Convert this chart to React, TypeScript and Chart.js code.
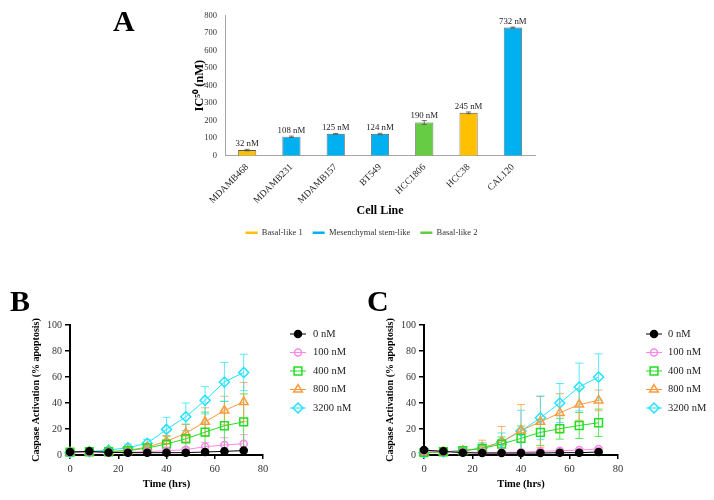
import React, { useEffect, useRef } from "react";
import { Chart, registerables } from "chart.js";
import { drawPoint } from "chart.js/helpers";

Chart.register(...registerables);

const SERIF = "'Liberation Serif', 'Times New Roman', serif";

// ---------- Panel A data ----------
const cellLines = ["MDAMB468", "MDAMB231", "MDAMB157", "BT549", "HCC1806", "HCC38", "CAL120"];
const ic50Values = [32, 108, 125, 124, 190, 245, 732];
const ic50Errors = [4, 4, 2, 4, 11, 5, 3];
const cellSubtype = [0, 1, 1, 1, 2, 0, 1];
const subtypeNames = ["Basal-like 1", "Mesenchymal stem-like", "Basal-like 2"];
const subtypeColors = ["#FFC000", "#00B0F0", "#66CC44"];

// ---------- Panels B and C data ----------
const timeHrs = [0, 8, 16, 24, 32, 40, 48, 56, 64, 72];
const doseLabels = ["0 nM", "100 nM", "400 nM", "800 nM", "3200 nM"];

// Panel B means
const b0nM = [2.3, 2.8, 2.0, 1.8, 1.8, 1.8, 1.8, 2.3, 2.8, 3.4];
const b100nM = [2.0, 2.3, 2.0, 2.0, 2.6, 3.3, 4.1, 6.4, 7.7, 8.7];
const b400nM = [2.2, 2.5, 2.5, 3.3, 5.4, 8.4, 12.5, 17.6, 22.5, 25.5];
const b800nM = [2.0, 2.3, 2.5, 3.6, 6.1, 10.5, 16.8, 25.5, 34.2, 40.8];
const b3200nM = [1.8, 2.6, 3.8, 5.6, 9.0, 19.7, 29.4, 42.1, 56.2, 63.5];
// Panel B errors (SD)
const b0nMErr = [0.4, 0.4, 0.3, 0.3, 0.3, 0.3, 0.3, 0.3, 0.4, 0.4];
const b100nMErr = [0.5, 0.5, 0.5, 0.5, 0.8, 1.2, 1.5, 3.3, 5.6, 7.0];
const b400nMErr = [0.5, 0.5, 0.6, 0.8, 1.5, 6.0, 11.2, 15.4, 18.8, 21.5];
const b800nMErr = [0.5, 0.5, 0.6, 0.8, 1.5, 4.5, 6.7, 10.8, 11.0, 15.0];
const b3200nMErr = [0.5, 0.6, 1.3, 2.8, 3.0, 9.3, 10.6, 10.5, 15.0, 14.0];

// Panel C means
const c0nM = [3.8, 2.8, 1.8, 1.5, 1.5, 1.5, 1.5, 1.8, 1.8, 2.3];
const c100nM = [3.0, 2.6, 2.2, 2.0, 2.0, 2.2, 2.8, 3.3, 3.8, 4.6];
const c400nM = [1.8, 2.5, 3.3, 5.1, 8.4, 12.8, 17.4, 20.2, 22.7, 24.8];
const c800nM = [2.0, 2.5, 3.0, 5.4, 10.2, 18.9, 25.5, 32.4, 38.8, 42.0];
const c3200nM = [1.8, 2.3, 3.3, 5.4, 10.0, 18.4, 28.6, 40.0, 52.3, 60.0];
// Panel C errors (SD)
const c0nMErr = [0.5, 0.4, 0.3, 0.3, 0.3, 0.3, 0.3, 0.3, 0.3, 0.4];
const c100nMErr = [0.6, 0.5, 0.5, 0.5, 0.5, 0.6, 0.7, 0.8, 0.9, 1.0];
const c400nMErr = [0.6, 0.6, 1.2, 2.5, 5.5, 9.5, 10.0, 8.0, 10.0, 10.5];
const c800nMErr = [0.6, 0.6, 1.5, 6.0, 11.7, 19.9, 19.5, 14.8, 12.0, 8.0];
const c3200nMErr = [0.6, 0.6, 1.5, 4.0, 7.0, 16.0, 16.8, 15.0, 18.4, 17.8];

// ---------- styling ----------
const doseColors = ["#000000", "#FF86E6", "#22DD22", "#FF9A3C", "#22E3FF"];
const doseErrColors = [
  "rgba(0,0,0,0.8)",
  "rgba(255,134,230,0.75)",
  "rgba(34,221,34,0.75)",
  "rgba(255,154,60,0.75)",
  "rgba(34,227,255,0.75)",
];
const doseStyles = ["circle", "circle", "rect", "triangle", "rectRot"];
const doseRadii = [3.5, 3.5, 5.5, 5, 5];

const errorBarPlugin = {
  id: "errorBars",
  beforeDatasetsDraw(chart: any) {
    const { ctx, scales } = chart;
    const y = scales.y;
    chart.data.datasets.forEach((ds: any, i: number) => {
      const errs: number[] | undefined = ds.errorBars;
      if (!errs) return;
      const meta = chart.getDatasetMeta(i);
      ctx.save();
      ctx.strokeStyle = ds.errorColor;
      ctx.lineWidth = 1;
      meta.data.forEach((pt: any, j: number) => {
        const e = errs[j];
        if (!e) return;
        const v = ds.data[j].y;
        const yt = y.getPixelForValue(v + e);
        const yb = y.getPixelForValue(Math.max(0, v - e));
        const x = pt.x;
        ctx.beginPath();
        ctx.moveTo(x, yt);
        ctx.lineTo(x, yb);
        ctx.moveTo(x - 4, yt);
        ctx.lineTo(x + 4, yt);
        ctx.moveTo(x - 4, yb);
        ctx.lineTo(x + 4, yb);
        ctx.stroke();
      });
      ctx.restore();
    });
  },
};

const sideLegendPlugin = {
  id: "sideLegend",
  afterDraw(chart: any, _args: any, opts: any) {
    const { ctx, chartArea } = chart;
    const x0 = chartArea.right + opts.markerOffset;
    chart.data.datasets.forEach((ds: any, i: number) => {
      const y = chartArea.top + opts.firstRow + i * opts.rowGap;
      ctx.save();
      ctx.strokeStyle = ds.borderColor;
      ctx.lineWidth = 1;
      ctx.beginPath();
      ctx.moveTo(x0 - 8, y);
      ctx.lineTo(x0 + 8, y);
      ctx.stroke();
      ctx.strokeStyle = ds.pointBorderColor;
      ctx.fillStyle = ds.pointBackgroundColor;
      ctx.lineWidth = ds.pointBorderWidth;
      drawPoint(
        ctx,
        { pointStyle: ds.pointStyle, radius: ds.pointRadius, rotation: 0, borderWidth: ds.pointBorderWidth } as any,
        x0,
        y
      );
      ctx.fillStyle = "#222";
      ctx.font = `10.5px ${SERIF}`;
      ctx.textBaseline = "middle";
      ctx.textAlign = "left";
      ctx.fillText(ds.label, x0 + opts.textOffset, y);
      ctx.restore();
    });
  },
};

const barAnnotPlugin = {
  id: "barAnnot",
  afterDatasetsDraw(chart: any) {
    const { ctx, scales } = chart;
    const y = scales.y;
    const meta = chart.getDatasetMeta(0);
    meta.data.forEach((bar: any, j: number) => {
      const v = ic50Values[j];
      const e = ic50Errors[j];
      const yt = y.getPixelForValue(v + e);
      const yb = y.getPixelForValue(v - e);
      ctx.save();
      ctx.strokeStyle = "#555";
      ctx.lineWidth = 0.8;
      ctx.beginPath();
      ctx.moveTo(bar.x, yt);
      ctx.lineTo(bar.x, yb);
      ctx.moveTo(bar.x - 2.5, yt);
      ctx.lineTo(bar.x + 2.5, yt);
      ctx.moveTo(bar.x - 2.5, yb);
      ctx.lineTo(bar.x + 2.5, yb);
      ctx.stroke();
      ctx.fillStyle = "#222";
      ctx.font = `8.8px ${SERIF}`;
      ctx.textAlign = "center";
      ctx.textBaseline = "alphabetic";
      const labelY = Math.min(y.getPixelForValue(v) - 4, yt - 2);
      ctx.fillText(`${v} nM`, bar.x, labelY);
      ctx.restore();
    });
  },
};

function IC50Chart() {
  const ref = useRef<HTMLCanvasElement>(null);
  useEffect(() => {
    if (!ref.current) return;
    const chart = new Chart(ref.current, {
      type: "bar",
      data: {
        labels: cellLines,
        datasets: [
          {
            data: ic50Values,
            backgroundColor: cellSubtype.map((s) => subtypeColors[s]),
            borderColor: "#5a5a5a",
            borderWidth: 0.8,
            categoryPercentage: 0.5,
            barPercentage: 0.82,
          },
        ],
      },
      options: {
        responsive: false,
        animation: false,
        events: [],
        layout: { padding: { left: 76, right: 77, top: 15.7, bottom: 1 } },
        plugins: {
          tooltip: { enabled: false },
          legend: {
            position: "bottom",
            labels: {
              usePointStyle: true,
              pointStyle: "line",
              pointStyleWidth: 12,
              padding: 10,
              color: "#333",
              font: { family: SERIF, size: 8.5 },
              generateLabels: () =>
                subtypeNames.map((n, i) => ({
                  text: n,
                  strokeStyle: subtypeColors[i],
                  fillStyle: subtypeColors[i],
                  fontColor: "#333",
                  lineWidth: 2.5,
                  pointStyle: "line",
                  hidden: false,
                  datasetIndex: 0,
                })),
            },
          },
        },
        scales: {
          x: {
            grid: { display: false, drawTicks: false },
            border: { color: "#a6a6a6" },
            ticks: {
              font: { family: SERIF, size: 9.5 },
              color: "#222",
              minRotation: 45,
              maxRotation: 45,
              autoSkip: false,
              padding: 6,
            },
            title: {
              display: true,
              text: "Cell Line",
              color: "#000",
              font: { family: SERIF, size: 12, weight: "bold" },
              padding: { top: 2, bottom: 0 },
            },
            afterFit: (s: any) => {
              s.height = 62.8;
            },
          },
          y: {
            min: 0,
            max: 800,
            grid: { display: false, drawTicks: false },
            border: { color: "#a6a6a6" },
            ticks: {
              stepSize: 100,
              font: { family: SERIF, size: 8.5 },
              color: "#333",
              padding: 8,
            },
            title: {
              display: true,
              text: "IC\u2075\u2070 (nM)",
              color: "#000",
              font: { family: SERIF, size: 12.5, weight: "bold" },
              padding: { top: 4, bottom: 4 },
            },
            afterFit: (s: any) => {
              s.width = 37;
            },
          },
        },
      } as any,
      plugins: [barAnnotPlugin],
    });
    return () => chart.destroy();
  }, []);
  return (
    <canvas
      ref={ref}
      width={500}
      height={248}
      style={{ position: "absolute", left: 112, top: 0, width: 500, height: 248 }}
    />
  );
}

function CaspaseChart(props: {
  left: number;
  width: number;
  rightPad: number;
  means: number[][];
  errs: number[][];
  markerOffset: number;
  textOffset: number;
}) {
  const ref = useRef<HTMLCanvasElement>(null);
  useEffect(() => {
    if (!ref.current) return;
    const chart = new Chart(ref.current, {
      type: "scatter",
      data: {
        datasets: doseLabels.map((label, i) => ({
          label,
          data: timeHrs.map((t, j) => ({ x: t, y: props.means[i][j] })),
          errorBars: props.errs[i],
          errorColor: doseErrColors[i],
          showLine: true,
          borderColor: doseColors[i],
          borderWidth: 1,
          pointStyle: doseStyles[i],
          pointRadius: doseRadii[i],
          pointBorderColor: doseColors[i],
          pointBackgroundColor: i === 0 ? "#000000" : "rgba(255,255,255,0)",
          pointBorderWidth: 1.5,
          clip: false,
        })),
      },
      options: {
        responsive: false,
        animation: false,
        events: [],
        layout: { padding: { left: 26.7, right: props.rightPad, top: 25, bottom: 9.4 } },
        plugins: {
          legend: { display: false },
          tooltip: { enabled: false },
          sideLegend: {
            markerOffset: props.markerOffset,
            textOffset: props.textOffset,
            firstRow: 9,
            rowGap: 18.5,
          },
        },
        scales: {
          x: {
            type: "linear",
            min: 0,
            max: 80,
            grid: { drawOnChartArea: false, drawTicks: true, tickLength: 4, color: "#000", lineWidth: 1.5 },
            border: { color: "#000", width: 2 },
            ticks: { stepSize: 20, font: { family: SERIF, size: 10.5 }, color: "#333", padding: 4 },
            title: {
              display: true,
              text: "Time (hrs)",
              color: "#000",
              font: { family: SERIF, size: 10.5, weight: "bold" },
              padding: { top: 2, bottom: 0 },
            },
            afterFit: (s: any) => {
              s.height = 35.6;
            },
          },
          y: {
            min: 0,
            max: 100,
            grid: { drawOnChartArea: false, drawTicks: true, tickLength: 5, color: "#000", lineWidth: 1.5 },
            border: { color: "#000", width: 2 },
            ticks: { stepSize: 20, font: { family: SERIF, size: 10 }, color: "#333", padding: 3 },
            title: {
              display: true,
              text: "Caspase Activation (% apoptosis)",
              color: "#000",
              font: { family: SERIF, size: 10, weight: "bold" },
              padding: { top: 4, bottom: 2 },
            },
            afterFit: (s: any) => {
              s.width = 43.3;
            },
          },
        },
      } as any,
      plugins: [errorBarPlugin, sideLegendPlugin],
    });
    return () => chart.destroy();
  }, []);
  return (
    <canvas
      ref={ref}
      width={props.width}
      height={200}
      style={{ position: "absolute", left: props.left, top: 300, width: props.width, height: 200 }}
    />
  );
}

const letterStyle: React.CSSProperties = {
  position: "absolute",
  fontFamily: SERIF,
  fontWeight: "bold",
  fontSize: 30,
  lineHeight: "30px",
  color: "#000",
};

export default function App() {
  return (
    <div
      style={{
        position: "fixed",
        left: 0,
        top: 0,
        width: 714,
        height: 500,
        background: "#fff",
        overflow: "hidden",
      }}
    >
      <IC50Chart />
      <CaspaseChart
        left={0}
        width={357}
        rightPad={94}
        means={[b0nM, b100nM, b400nM, b800nM, b3200nM]}
        errs={[b0nMErr, b100nMErr, b400nMErr, b800nMErr, b3200nMErr]}
        markerOffset={35}
        textOffset={15}
      />
      <CaspaseChart
        left={354}
        width={360}
        rightPad={96}
        means={[c0nM, c100nM, c400nM, c800nM, c3200nM]}
        errs={[c0nMErr, c100nMErr, c400nMErr, c800nMErr, c3200nMErr]}
        markerOffset={36}
        textOffset={14}
      />
      <div style={{ ...letterStyle, left: 113, top: 6.4 }}>A</div>
      <div style={{ ...letterStyle, left: 10, top: 286.4 }}>B</div>
      <div style={{ ...letterStyle, left: 367, top: 286.4 }}>C</div>
    </div>
  );
}
